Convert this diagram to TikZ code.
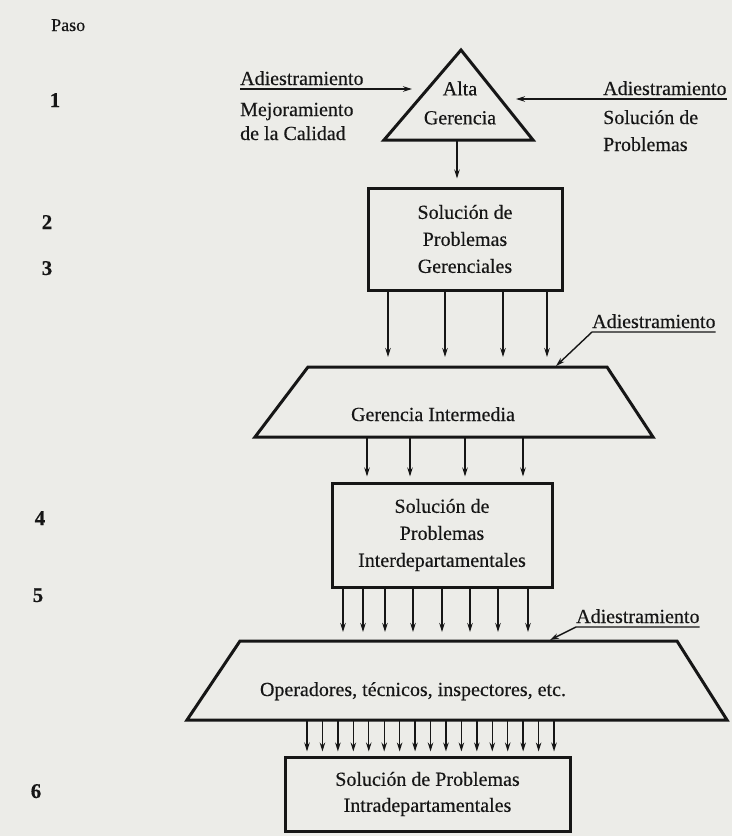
\documentclass[tikz,border=0pt]{standalone}
\usepackage{fontspec}
\setmainfont{Liberation Serif}[FakeBold=0.35]
\usetikzlibrary{arrows.meta,calc}
\definecolor{ink}{RGB}{22,22,22}
\definecolor{paper}{RGB}{236,236,232}
\begin{document}
\begin{tikzpicture}[x=1pt,y=-1pt,
  txt/.style={inner sep=0pt,text=ink,font=\fontsize{20}{27}\selectfont},
  lbl/.style={txt,anchor=base west},
  stepno/.style={inner sep=0pt,text=ink,anchor=base,font=\fontsize{21}{24}\selectfont\bfseries},
  outline/.style={draw=ink,line width=3pt,line join=miter},
  box/.style={outline,txt,align=center,inner sep=0pt},
  arr/.style={draw=ink,line width=1.4pt,-{Stealth[length=9pt,width=5.5pt]}}
]
\useasboundingbox (0,0) rectangle (732,836);
\fill[paper] (0,0) rectangle (732,836);

% step column
\node[lbl,font=\fontsize{18}{20}\selectfont] (paso) at (51,31) {Paso};
\node[stepno] (s1) at (55,107) {1};
\node[stepno] (s2) at (47,229) {2};
\node[stepno] (s3) at (47,275) {3};
\node[stepno] (s4) at (40,525) {4};
\node[stepno] (s5) at (38,602) {5};
\node[stepno] (s6) at (36,798) {6};

% step 1: Alta Gerencia
\coordinate (triA) at (461,50);
\coordinate (triL) at (384,140);
\coordinate (triR) at (533,140);
\draw[outline] (triA) -- (triR) -- (triL) -- cycle;
\node[txt,align=center,font=\fontsize{20}{29}\selectfont] (alta) at (460,103) {Alta\\Gerencia};
\coordinate (triB) at (457,140);
\coordinate (triLin) at (412,89);
\coordinate (triRin) at (516,99);

\node[lbl] (adL) at (240,85) {Adiestramiento};
\node[lbl] (mej) at (240,116) {Mejoramiento};
\node[lbl] (cal) at (240,140) {de la Calidad};
\draw[arr] ($(adL.base west)+(0,4)$) -- (triLin);

\node[lbl] (adR) at (603,95) {Adiestramiento};
\node[lbl] (solR) at (603,124) {Solución de};
\node[lbl] (probR) at (603,151) {Problemas};
\draw[arr] ($(adR.base east)+(0,4)$) -- (triRin);

% step 2
\node[box,minimum width=194pt,minimum height=102pt] (b1) at (465,239) {Solución de\\Problemas\\Gerenciales};
\draw[arr,shorten >=8pt] (triB) -- (triB |- b1.north);

% step 3: Gerencia Intermedia
\coordinate (t1tl) at (308,367);
\coordinate (t1tr) at (607,367);
\coordinate (t1br) at (653,437);
\coordinate (t1bl) at (255,437);
\draw[outline] (t1tl) -- (t1tr) -- (t1br) -- (t1bl) -- cycle;
\node[txt,anchor=base] (gi) at (433,421) {Gerencia Intermedia};
\foreach \x in {388,445,503,547}
  \draw[arr,shorten >=10pt] (b1.south -| \x,0) -- (t1tl -| \x,0);

\node[lbl] (ad3) at (592,328) {Adiestramiento};
\coordinate (t1in) at (556,366);
\draw[arr] ($(ad3.base east)+(0,4)$) -- ($(ad3.base west)+(0,4)$) -- (t1in);

% step 4
\node[box,minimum width=220pt,minimum height=104pt] (b2) at (442,535) {Solución de\\Problemas\\Interdepartamentales};
\foreach \x in {367,410,465,523}
  \draw[arr,shorten >=5pt] (t1bl -| \x,0) -- (b2.north -| \x,0);

% step 5: operadores
\coordinate (t2tl) at (240,641);
\coordinate (t2tr) at (677,641);
\coordinate (t2br) at (727,720);
\coordinate (t2bl) at (187,720);
\draw[outline] (t2tl) -- (t2tr) -- (t2br) -- (t2bl) -- cycle;
\node[txt,anchor=base] (ops) at (413,696) {Operadores, técnicos, inspectores, etc.};
\foreach \x in {343,363,385,413,442,470,498,528}
  \draw[arr,shorten >=9pt] (b2.south -| \x,0) -- (t2tl -| \x,0);

\node[lbl] (ad4) at (576,623) {Adiestramiento};
\coordinate (t2in) at (550,640);
\draw[arr] ($(ad4.base east)+(0,4)$) -- ($(ad4.base west)+(0,4)$) -- (t2in);

% step 6
\node[box,font=\fontsize{20}{26}\selectfont,minimum width=285pt,minimum height=74pt] (b3) at (427.5,794) {Solución de Problemas\\Intradepartamentales};
\foreach \i [evaluate=\i as \xx using 307+15.44*\i] in {0,...,16}
  \draw[arr,shorten >=4pt] (t2bl -| \xx,0) -- (b3.north -| \xx,0);
\end{tikzpicture}
\end{document}
